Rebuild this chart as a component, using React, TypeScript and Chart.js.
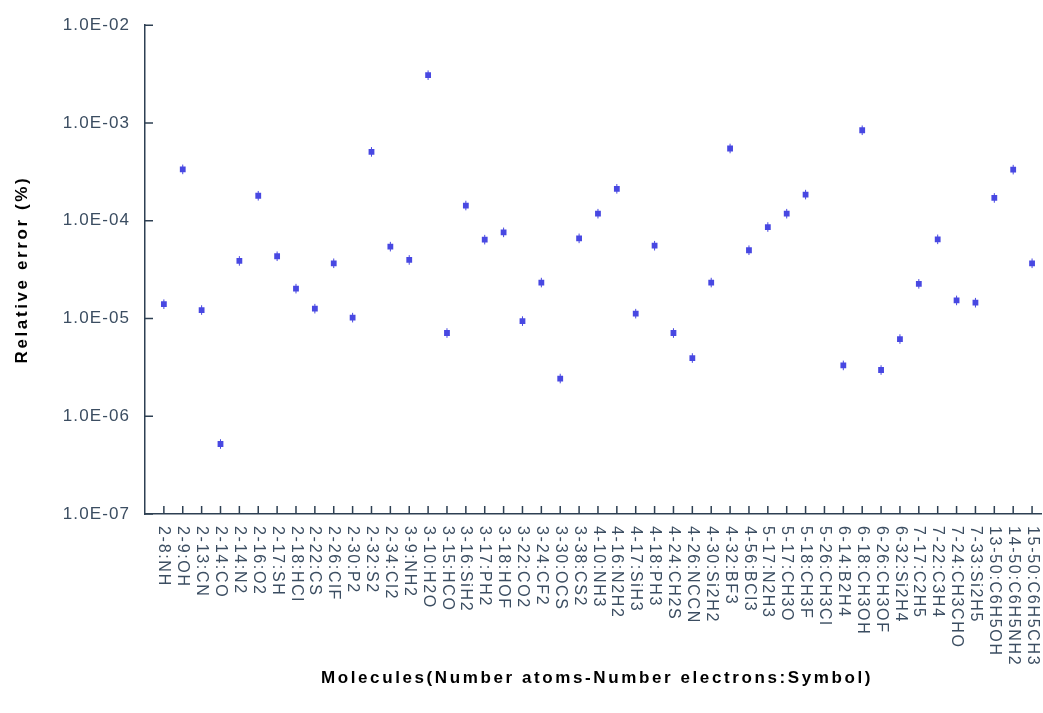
import { useEffect, useRef } from "react";
import { Chart, registerables } from "chart.js";

Chart.register(...registerables);

// Molecules: "number of atoms-number of electrons:formula"
const molecules = [
  "2-8:NH", "2-9:OH", "2-13:CN", "2-14:CO", "2-14:N2", "2-16:O2", "2-17:SH", "2-18:HCl",
  "2-22:CS", "2-26:ClF", "2-30:P2", "2-32:S2", "2-34:Cl2", "3-9:NH2", "3-10:H2O", "3-15:HCO",
  "3-16:SiH2", "3-17:PH2", "3-18:HOF", "3-22:CO2", "3-24:CF2", "3-30:OCS", "3-38:CS2", "4-10:NH3",
  "4-16:N2H2", "4-17:SiH3", "4-18:PH3", "4-24:CH2S", "4-26:NCCN", "4-30:Si2H2", "4-32:BF3", "4-56:BCl3",
  "5-17:N2H3", "5-17:CH3O", "5-18:CH3F", "5-26:CH3Cl", "6-14:B2H4", "6-18:CH3OH", "6-26:CH3OF", "6-32:Si2H4",
  "7-17:C2H5", "7-22:C3H4", "7-24:CH3CHO", "7-33:Si2H5", "13-50:C6H5OH", "14-50:C6H5NH2", "15-50:C6H5CH3",
];

// Relative error (%) per molecule; null where no value is available
const relativeError: (number | null)[] = [
  1.40e-5, 3.35e-4, 1.22e-5, 5.2e-7, 3.88e-5, 1.80e-4, 4.33e-5, 2.02e-5,
  1.26e-5, 3.67e-5, 1.02e-5, 5.06e-4, 5.43e-5, 3.97e-5, 3.08e-3, 7.1e-6,
  1.43e-4, 6.4e-5, 7.6e-5, 9.4e-6, 2.33e-5, 2.43e-6, 6.6e-5, 1.18e-4,
  2.12e-4, 1.12e-5, 5.55e-5, 7.1e-6, 3.94e-6, 2.33e-5, 5.48e-4, 4.99e-5,
  8.62e-5, 1.18e-4, 1.85e-4, null, 3.31e-6, 8.42e-4, 2.97e-6, 6.16e-6,
  2.26e-5, 6.45e-5, 1.53e-5, 1.45e-5, 1.71e-4, 3.33e-4, 3.67e-5,
];

const yTickValues = [1e-7, 1e-6, 1e-5, 1e-4, 1e-3, 1e-2];

const xTitle = "Molecules(Number atoms-Number electrons:Symbol)";
const yTitle = "Relative error (%)";

const TEXT = "#3b4d61";
const AXIS = "#2e4053";
const MARK = "#4848e2";
const FONT = '"Liberation Sans", Arial, sans-serif';

function formatSci(v: number): string {
  const exp = Math.round(Math.log10(v));
  const mant = v / Math.pow(10, exp);
  const sign = exp < 0 ? "-" : "+";
  return `${mant.toFixed(1)}E${sign}${String(Math.abs(exp)).padStart(2, "0")}`;
}

// Inward tick marks, rotated category labels and the axis titles
const axisDecor = {
  id: "axisDecor",
  beforeDraw(chart: any) {
    chart.ctx.letterSpacing = "1.1px";
  },
  afterDraw(chart: any) {
    const { ctx, chartArea, scales } = chart;
    const xs = scales.x;
    const ys = scales.y;
    ctx.save();
    ctx.strokeStyle = AXIS;
    ctx.lineWidth = 1.5;
    ctx.beginPath();
    for (const t of ys.ticks) {
      const py = ys.getPixelForValue(t.value);
      ctx.moveTo(chartArea.left, py);
      ctx.lineTo(chartArea.left + 8, py);
    }
    for (const t of xs.ticks) {
      const px = xs.getPixelForValue(t.value);
      ctx.moveTo(px, chartArea.bottom);
      ctx.lineTo(px, chartArea.bottom - 8);
    }
    ctx.stroke();

    ctx.fillStyle = TEXT;
    ctx.font = `16px ${FONT}`;
    ctx.letterSpacing = "1.7px";
    ctx.textAlign = "left";
    ctx.textBaseline = "middle";
    for (const t of xs.ticks) {
      const label = molecules[t.value];
      if (label === undefined) continue;
      const px = xs.getPixelForValue(t.value);
      ctx.save();
      ctx.translate(px, chartArea.bottom + 12);
      ctx.rotate(Math.PI / 2);
      ctx.fillText(label, 0, 0);
      ctx.restore();
    }

    ctx.fillStyle = "#000";
    ctx.font = `bold 17px ${FONT}`;
    ctx.letterSpacing = "2.6px";
    ctx.textAlign = "center";
    ctx.textBaseline = "middle";
    ctx.fillText(xTitle, 597, 678);

    ctx.save();
    ctx.translate(22, (chartArea.top + chartArea.bottom) / 2);
    ctx.rotate(-Math.PI / 2);
    ctx.fillText(yTitle, 0, 0);
    ctx.restore();

    ctx.restore();
    ctx.letterSpacing = "0px";
  },
};

export default function App() {
  const canvasRef = useRef<HTMLCanvasElement | null>(null);

  useEffect(() => {
    const canvas = canvasRef.current;
    if (!canvas) return;

    const points = relativeError
      .map((v, i) => (v === null ? null : { x: i, y: v }))
      .filter((p): p is { x: number; y: number } => p !== null);

    const chart = new Chart(canvas, {
      type: "scatter",
      data: {
        datasets: [
          {
            label: yTitle,
            data: points,
            pointStyle: "line",
            rotation: 90,
            radius: 4.8,
            borderWidth: 1,
            borderColor: MARK,
            backgroundColor: MARK,
          },
          {
            label: yTitle,
            data: points,
            pointStyle: "rect",
            radius: 4.1,
            borderWidth: 0,
            backgroundColor: MARK,
            borderColor: MARK,
          },
        ],
      },
      options: {
        responsive: false,
        animation: false,
        devicePixelRatio: 1,
        layout: { autoPadding: false, padding: { top: 25, right: 1.5, bottom: 0, left: 0 } },
        plugins: {
          legend: { display: false },
          tooltip: { enabled: false },
        },
        scales: {
          x: {
            type: "linear",
            min: -1,
            max: molecules.length - 0.5,
            grid: { display: false, drawTicks: false },
            border: { display: true, color: AXIS, width: 1.5 },
            ticks: { display: false },
            afterBuildTicks: (scale: any) => {
              scale.ticks = molecules.map((_, i) => ({ value: i }));
            },
            afterFit: (scale: any) => {
              scale.height = 199;
            },
          },
          y: {
            type: "logarithmic",
            min: yTickValues[0],
            max: yTickValues[yTickValues.length - 1],
            grid: { display: false, drawTicks: false },
            border: { display: true, color: AXIS, width: 1.5 },
            ticks: {
              color: TEXT,
              padding: 15,
              font: { family: FONT, size: 17 },
              callback: (v: any) => formatSci(Number(v)),
            },
            afterBuildTicks: (scale: any) => {
              scale.ticks = yTickValues.map((v) => ({ value: v }));
            },
            afterFit: (scale: any) => {
              scale.width = 145;
            },
          },
        },
      },
      plugins: [axisDecor],
    });

    return () => chart.destroy();
  }, []);

  return (
    <div style={{ position: "absolute", left: 0, top: 0, width: 1043, height: 713, background: "#fff" }}>
      <canvas ref={canvasRef} width={1043} height={713} style={{ width: 1043, height: 713, display: "block" }} />
    </div>
  );
}
